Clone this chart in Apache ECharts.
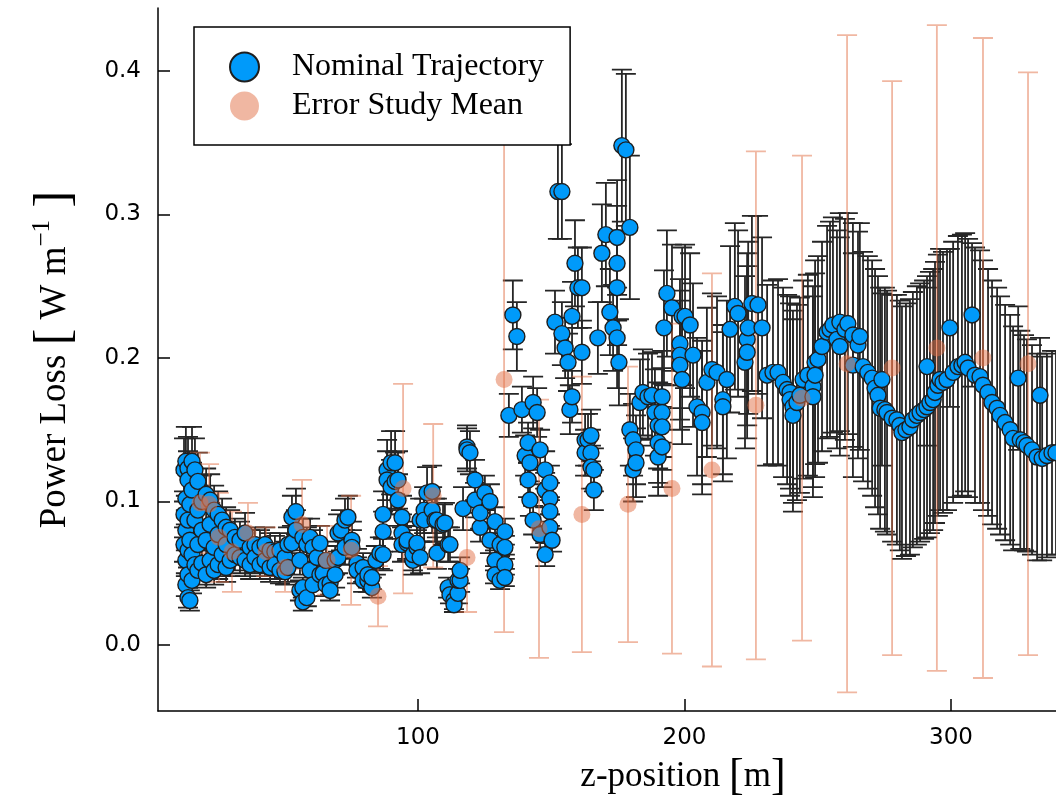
<!DOCTYPE html>
<html>
<head>
<meta charset="utf-8">
<script src="https://cdn.jsdelivr.net/npm/echarts@6/dist/echarts.min.js"></script>
<style>
  html, body { margin: 0; padding: 0; background: #fff; }
  #chart { width: 1056px; height: 804px; }
</style>
</head>
<body>
<div id="chart"></div>
<script>
// nominal trajectory: z-position [m], power loss [W/m], error half-width
var nomZ = [
  12.2, 12.2, 12.2, 12.9, 12.9, 12.9, 12.9, 12.9, 13.7, 13.7,
  13.7, 13.7, 13.7, 13.7, 14.4, 14.4, 14.4, 15.2, 15.2, 15.2,
  15.2, 16.3, 16.3, 16.3, 17.4, 17.4, 17.4, 17.4, 18.9, 18.9,
  18.9, 20.5, 20.5, 20.5, 22.0, 22.0, 22.0, 23.5, 23.5, 23.5,
  25.0, 25.0, 25.0, 26.5, 26.5, 28.0, 28.0, 28.0, 29.5, 29.5,
  31.3, 31.3, 33.2, 33.2, 35.1, 35.1, 37.0, 37.0, 38.8, 38.8,
  40.7, 40.7, 42.6, 42.6, 44.5, 44.5, 46.3, 46.3, 48.2, 48.2,
  50.1, 50.1, 51.2, 51.2, 52.7, 52.7, 54.2, 54.2, 55.7, 55.7,
  56.8, 56.8, 56.8, 58.3, 58.3, 59.5, 59.5, 60.6, 60.6, 62.1,
  63.2, 63.2, 64.4, 65.5, 65.5, 67.0, 67.0, 68.9, 68.9, 70.0,
  70.0, 71.1, 72.6, 72.6, 73.7, 75.2, 75.2, 77.1, 77.1, 79.4,
  79.4, 81.2, 81.2, 82.7, 82.7, 84.2, 85.7, 86.9, 86.9, 86.9,
  88.4, 88.4, 89.9, 89.9, 91.4, 91.4, 92.5, 92.5, 94.0, 94.0,
  94.0, 95.9, 95.9, 98.1, 98.1, 99.6, 99.6, 100.8, 100.8, 102.3,
  102.3, 103.4, 105.3, 105.3, 106.4, 107.1, 107.1, 109.4, 110.1, 111.3,
  111.3, 112.0, 112.0, 113.5, 113.5, 115.0, 115.0, 115.8, 115.8, 116.9,
  118.4, 118.4, 119.5, 121.4, 121.4, 123.3, 123.3, 125.1, 127.0, 127.0,
  128.9, 128.9, 128.9, 130.8, 130.8, 132.6, 132.6, 132.6, 132.6, 134.1,
  135.6, 137.1, 139.0, 140.2, 141.3, 141.3, 142.0, 142.0, 143.2, 143.2,
  144.7, 145.8, 145.8, 147.7, 147.7, 147.7, 149.5, 149.5, 149.5, 149.5,
  150.3, 151.4, 152.5, 154.0, 154.0, 155.2, 156.3, 157.0, 157.8, 157.8,
  158.9, 160.0, 161.5, 161.5, 162.7, 162.7, 163.8, 164.9, 164.9, 164.9,
  166.0, 166.0, 167.5, 169.0, 170.5, 172.0, 173.2, 174.7, 174.7, 174.7,
  174.7, 175.4, 176.5, 178.0, 179.5, 179.5, 180.7, 180.7, 181.8, 181.8,
  183.3, 184.4, 186.3, 187.8, 188.9, 190.1, 190.1, 190.1, 191.6, 191.6,
  191.6, 191.6, 192.3, 193.4, 195.3, 198.3, 198.3, 198.3, 199.1, 199.1,
  200.2, 202.1, 203.2, 204.7, 206.6, 206.6, 208.4, 210.3, 212.2, 214.4,
  214.4, 215.9, 217.1, 218.9, 220.1, 222.7, 223.5, 223.5, 223.9, 225.3,
  227.6, 229.1, 231.0, 233.2, 235.1, 237.0, 238.5, 239.6, 239.6, 240.7,
  240.7, 242.2, 243.3, 244.5, 246.3, 248.2, 248.2, 249.0, 249.0, 250.1,
  251.6, 253.5, 254.6, 255.7, 257.2, 258.3, 258.3, 260.2, 261.3, 263.2,
  263.2, 265.1, 265.8, 267.0, 268.8, 270.4, 271.5, 272.6, 273.4, 274.1,
  275.2, 276.0, 277.9, 279.7, 280.8, 281.6, 283.1, 284.6, 285.7, 287.2,
  288.4, 289.9, 291.0, 291.0, 292.1, 293.3, 294.0, 295.1, 295.9, 297.0,
  298.5, 299.6, 300.8, 302.6, 304.1, 305.3, 306.4, 307.9, 309.0, 310.9,
  312.0, 313.9, 315.4, 317.3, 318.4, 320.3, 322.2, 323.3, 325.2, 326.0,
  327.4, 328.5, 330.4, 332.3, 333.4, 334.2, 336.0, 337.9, 339.4
];
var nomP = [
  0.122, 0.091, 0.070, 0.128, 0.102, 0.080, 0.059, 0.042, 0.123, 0.115,
  0.087, 0.066, 0.049, 0.033, 0.031, 0.073, 0.098, 0.128, 0.108, 0.045,
  0.063, 0.122, 0.087, 0.056, 0.114, 0.094, 0.070, 0.052, 0.100, 0.080,
  0.057, 0.105, 0.073, 0.049, 0.101, 0.084, 0.059, 0.094, 0.068, 0.052,
  0.091, 0.077, 0.056, 0.087, 0.063, 0.082, 0.070, 0.054, 0.080, 0.059,
  0.075, 0.063, 0.073, 0.061, 0.078, 0.059, 0.068, 0.056, 0.070, 0.061,
  0.068, 0.056, 0.070, 0.059, 0.066, 0.054, 0.065, 0.056, 0.066, 0.052,
  0.061, 0.051, 0.070, 0.054, 0.089, 0.071, 0.093, 0.080, 0.038, 0.059,
  0.030, 0.040, 0.075, 0.033, 0.070, 0.075, 0.052, 0.068, 0.042, 0.061,
  0.071, 0.049, 0.050, 0.059, 0.042, 0.043, 0.038, 0.059, 0.049, 0.061,
  0.078, 0.080, 0.087, 0.068, 0.089, 0.073, 0.068, 0.057, 0.052, 0.054,
  0.045, 0.045, 0.049, 0.040, 0.047, 0.059, 0.064, 0.091, 0.079, 0.063,
  0.122, 0.115, 0.127, 0.110, 0.127, 0.114, 0.115, 0.101, 0.089, 0.078,
  0.070, 0.071, 0.073, 0.059, 0.063, 0.068, 0.071, 0.061, 0.087, 0.094,
  0.087, 0.106, 0.107, 0.094, 0.087, 0.064, 0.087, 0.084, 0.085, 0.040,
  0.070, 0.070, 0.035, 0.031, 0.028, 0.036, 0.045, 0.045, 0.052, 0.095,
  0.138, 0.136, 0.134, 0.115, 0.101, 0.082, 0.092, 0.106, 0.100, 0.073,
  0.086, 0.059, 0.049, 0.070, 0.045, 0.079, 0.068, 0.056, 0.047, 0.160,
  0.230, 0.215, 0.164, 0.132, 0.141, 0.115, 0.127, 0.101, 0.169, 0.087,
  0.162, 0.136, 0.077, 0.122, 0.108, 0.063, 0.113, 0.102, 0.093, 0.082,
  0.073, 0.225, 0.316, 0.316, 0.217, 0.207, 0.197, 0.164, 0.173, 0.229,
  0.266, 0.249, 0.249, 0.204, 0.143, 0.134, 0.143, 0.146, 0.134, 0.124,
  0.108, 0.122, 0.214, 0.273, 0.286, 0.232, 0.221, 0.284, 0.266, 0.249,
  0.214, 0.197, 0.348, 0.345, 0.291, 0.150, 0.143, 0.122, 0.136, 0.127,
  0.169, 0.176, 0.173, 0.174, 0.162, 0.153, 0.141, 0.131, 0.173, 0.162,
  0.152, 0.138, 0.221, 0.245, 0.235, 0.210, 0.202, 0.195, 0.229, 0.185,
  0.229, 0.223, 0.202, 0.166, 0.162, 0.155, 0.183, 0.192, 0.190, 0.171,
  0.166, 0.185, 0.220, 0.236, 0.231, 0.197, 0.213, 0.204, 0.221, 0.238,
  0.237, 0.221, 0.188, 0.190, 0.190, 0.183, 0.178, 0.176, 0.171, 0.166,
  0.160, 0.169, 0.174, 0.185, 0.188, 0.180, 0.173, 0.197, 0.188, 0.199,
  0.208, 0.218, 0.220, 0.223, 0.213, 0.225, 0.208, 0.220, 0.224, 0.216,
  0.195, 0.209, 0.215, 0.194, 0.190, 0.186, 0.179, 0.174, 0.165, 0.185,
  0.164, 0.162, 0.158, 0.157, 0.153, 0.148, 0.150, 0.152, 0.157, 0.160,
  0.162, 0.164, 0.166, 0.194, 0.169, 0.171, 0.176, 0.181, 0.185, 0.183,
  0.185, 0.221, 0.190, 0.194, 0.195, 0.197, 0.193, 0.230, 0.188, 0.187,
  0.181, 0.176, 0.169, 0.165, 0.160, 0.155, 0.150, 0.144, 0.186, 0.143,
  0.141, 0.139, 0.136, 0.131, 0.174, 0.130, 0.132, 0.134, 0.134
];
var nomErr = [
  0.022, 0.016, 0.012, 0.024, 0.018, 0.014, 0.011, 0.008, 0.022, 0.020,
  0.016, 0.012, 0.009, 0.007, 0.007, 0.013, 0.017, 0.024, 0.019, 0.009,
  0.011, 0.022, 0.015, 0.010, 0.020, 0.017, 0.013, 0.010, 0.018, 0.014,
  0.010, 0.018, 0.013, 0.009, 0.018, 0.015, 0.011, 0.017, 0.012, 0.010,
  0.016, 0.014, 0.010, 0.015, 0.011, 0.014, 0.012, 0.010, 0.014, 0.011,
  0.013, 0.011, 0.013, 0.011, 0.014, 0.011, 0.012, 0.010, 0.012, 0.011,
  0.012, 0.010, 0.012, 0.011, 0.012, 0.010, 0.011, 0.010, 0.012, 0.009,
  0.011, 0.009, 0.012, 0.010, 0.015, 0.012, 0.016, 0.014, 0.007, 0.010,
  0.006, 0.007, 0.013, 0.006, 0.012, 0.013, 0.009, 0.012, 0.008, 0.011,
  0.012, 0.009, 0.009, 0.010, 0.008, 0.008, 0.007, 0.010, 0.009, 0.011,
  0.013, 0.014, 0.015, 0.012, 0.015, 0.013, 0.012, 0.010, 0.009, 0.010,
  0.008, 0.008, 0.009, 0.007, 0.008, 0.010, 0.011, 0.016, 0.014, 0.011,
  0.021, 0.020, 0.022, 0.019, 0.022, 0.020, 0.020, 0.018, 0.015, 0.013,
  0.012, 0.012, 0.013, 0.010, 0.011, 0.012, 0.012, 0.011, 0.015, 0.016,
  0.015, 0.018, 0.018, 0.016, 0.015, 0.011, 0.015, 0.014, 0.014, 0.007,
  0.012, 0.012, 0.006, 0.006, 0.005, 0.007, 0.008, 0.008, 0.009, 0.015,
  0.015, 0.015, 0.015, 0.014, 0.012, 0.010, 0.011, 0.012, 0.012, 0.009,
  0.010, 0.007, 0.006, 0.008, 0.006, 0.009, 0.008, 0.007, 0.006, 0.015,
  0.024, 0.024, 0.016, 0.014, 0.014, 0.012, 0.013, 0.011, 0.018, 0.010,
  0.017, 0.014, 0.009, 0.013, 0.012, 0.008, 0.012, 0.011, 0.010, 0.009,
  0.008, 0.022, 0.033, 0.033, 0.022, 0.021, 0.020, 0.017, 0.018, 0.024,
  0.030, 0.028, 0.028, 0.022, 0.018, 0.016, 0.018, 0.018, 0.016, 0.015,
  0.014, 0.015, 0.025, 0.034, 0.036, 0.030, 0.030, 0.040, 0.040, 0.040,
  0.035, 0.030, 0.053, 0.053, 0.050, 0.025, 0.025, 0.022, 0.024, 0.024,
  0.030, 0.030, 0.030, 0.030, 0.030, 0.030, 0.028, 0.027, 0.032, 0.031,
  0.030, 0.028, 0.040, 0.044, 0.044, 0.045, 0.045, 0.045, 0.048, 0.045,
  0.050, 0.050, 0.050, 0.048, 0.050, 0.050, 0.052, 0.053, 0.053, 0.052,
  0.052, 0.055, 0.058, 0.058, 0.058, 0.060, 0.060, 0.060, 0.060, 0.061,
  0.062, 0.063, 0.063, 0.064, 0.065, 0.066, 0.066, 0.067, 0.067, 0.067,
  0.067, 0.068, 0.068, 0.069, 0.070, 0.070, 0.070, 0.071, 0.071, 0.072,
  0.073, 0.074, 0.075, 0.075, 0.076, 0.076, 0.076, 0.077, 0.077, 0.078,
  0.078, 0.079, 0.079, 0.080, 0.081, 0.082, 0.083, 0.083, 0.084, 0.060,
  0.085, 0.085, 0.086, 0.087, 0.087, 0.088, 0.088, 0.089, 0.089, 0.090,
  0.090, 0.090, 0.091, 0.055, 0.091, 0.091, 0.091, 0.091, 0.091, 0.091,
  0.091, 0.055, 0.091, 0.091, 0.091, 0.090, 0.090, 0.050, 0.089, 0.088,
  0.087, 0.086, 0.085, 0.084, 0.083, 0.082, 0.080, 0.078, 0.050, 0.076,
  0.075, 0.074, 0.073, 0.072, 0.040, 0.071, 0.071, 0.071, 0.071
];

// error study mean
var studyZ = [18.2, 21.6, 25.3, 30.2, 36.2, 43.0, 50.1, 56.5, 65.9, 74.9, 85.0, 94.4, 105.7, 118.4,
  132.3, 145.4, 161.5, 178.8, 195.3, 210.3, 226.8, 244.1, 261.0, 277.9, 294.7, 312.0, 328.9];
var studyP = [0.099, 0.098, 0.075, 0.065, 0.078, 0.065, 0.054, 0.084, 0.059, 0.066, 0.034, 0.109, 0.104, 0.061,
  0.185, 0.081, 0.091, 0.098, 0.109, 0.122, 0.167, 0.172, 0.196, 0.193, 0.207, 0.200, 0.196];
var studyErr = [0.035, 0.028, 0.031, 0.028, 0.021, 0.017, 0.017, 0.031, 0.024, 0.038, 0.021, 0.073, 0.050, 0.038,
  0.176, 0.090, 0.096, 0.096, 0.115, 0.137, 0.177, 0.169, 0.229, 0.200, 0.225, 0.223, 0.203];

var xTicks = [100, 200, 300];
var yTicks = [0, 0.1, 0.2, 0.3, 0.4];

var blue = '#009AFA';
var salmon = 'rgba(226,111,70,0.5)';
var serif = 'Liberation Serif';

function points(z, p) {
  return z.map(function (v, i) { return [v, p[i]]; });
}
function ranges(z, p, e) {
  return z.map(function (v, i) { return [v, p[i] - e[i], p[i] + e[i]]; });
}

// vertical bar with flat caps, one path so that alpha does not stack
function errorBars(color, cap) {
  return function (params, api) {
    var x = api.value(0);
    var a = api.coord([x, api.value(1)]);
    var b = api.coord([x, api.value(2)]);
    var d = 'M' + a[0] + ' ' + a[1] + 'L' + b[0] + ' ' + b[1] +
      'M' + (a[0] - cap) + ' ' + a[1] + 'L' + (a[0] + cap) + ' ' + a[1] +
      'M' + (b[0] - cap) + ' ' + b[1] + 'L' + (b[0] + cap) + ' ' + b[1];
    return {
      type: 'path',
      shape: { pathData: d },
      style: { fill: null, stroke: color, lineWidth: 1.8 }
    };
  };
}

var chart = echarts.init(document.getElementById('chart'));
chart.setOption({
  animation: false,
  backgroundColor: '#fff',
  grid: { left: 158, right: 0, top: 8, bottom: 93 },
  legend: {
    orient: 'vertical',
    left: 194,
    top: 27,
    data: ['Nominal Trajectory', 'Error Study Mean'],
    icon: 'circle',
    itemWidth: 29,
    itemHeight: 29,
    itemGap: 7,
    padding: [24, 26, 23, 35],
    backgroundColor: '#fff',
    borderColor: '#000',
    borderWidth: 1.5,
    borderRadius: 0,
    textStyle: { fontFamily: serif, fontSize: 32, color: '#000', padding: [0, 0, 0, 28] }
  },
  xAxis: {
    type: 'value',
    min: 2.44,
    max: 339.4,
    name: '{t|z-position }{b|[}{t|m}{b|]}',
    nameLocation: 'middle',
    nameGap: 44,
    nameTextStyle: {
      padding: [0, 0, 0, 152],
      rich: {
        t: { fontFamily: serif, fontSize: 35, color: '#000' },
        b: { fontFamily: serif, fontSize: 44, color: '#000' }
      }
    },
    axisLine: { onZero: false, lineStyle: { color: '#000', width: 1.5 } },
    axisTick: { inside: true, length: 12, customValues: xTicks, lineStyle: { color: '#000', width: 1.5 } },
    axisLabel: { customValues: xTicks, margin: 16, fontFamily: 'DejaVu Sans', fontSize: 23, color: '#000' },
    splitLine: { show: false }
  },
  yAxis: {
    type: 'value',
    min: -0.046,
    max: 0.4439,
    name: '{t|Power Loss }{b|[}{t| W m}{s|\u22121}{b| ]}',
    nameLocation: 'middle',
    nameGap: 78,
    nameTextStyle: {
      rich: {
        t: { fontFamily: serif, fontSize: 37, color: '#000' },
        b: { fontFamily: serif, fontSize: 50, color: '#000' },
        s: { fontFamily: serif, fontSize: 25, color: '#000', verticalAlign: 'top' }
      }
    },
    axisLine: { show: true, onZero: false, lineStyle: { color: '#000', width: 1.5 } },
    axisTick: { show: true, inside: true, length: 12, customValues: yTicks, lineStyle: { color: '#000', width: 1.5 } },
    axisLabel: {
      customValues: yTicks,
      margin: 17,
      fontFamily: 'DejaVu Sans',
      fontSize: 23,
      color: '#000',
      formatter: function (v) { return v.toFixed(1); }
    },
    splitLine: { show: false }
  },
  series: [
    {
      name: 'nominal error',
      type: 'custom',
      renderItem: errorBars('#262626', 10),
      data: ranges(nomZ, nomP, nomErr),
      encode: { x: 0, y: [1, 2] },
      silent: true
    },
    {
      name: 'Nominal Trajectory',
      type: 'scatter',
      symbol: 'circle',
      symbolSize: 16,
      data: points(nomZ, nomP),
      itemStyle: { color: blue, borderColor: '#1e1e1e', borderWidth: 1.4, opacity: 1 }
    },
    {
      name: 'study error',
      type: 'custom',
      renderItem: errorBars(salmon, 10),
      data: ranges(studyZ, studyP, studyErr),
      encode: { x: 0, y: [1, 2] },
      silent: true
    },
    {
      name: 'Error Study Mean',
      type: 'scatter',
      symbol: 'circle',
      symbolSize: 17,
      data: points(studyZ, studyP),
      itemStyle: { color: salmon, borderWidth: 0, opacity: 1 }
    }
  ]
});
</script>
</body>
</html>
